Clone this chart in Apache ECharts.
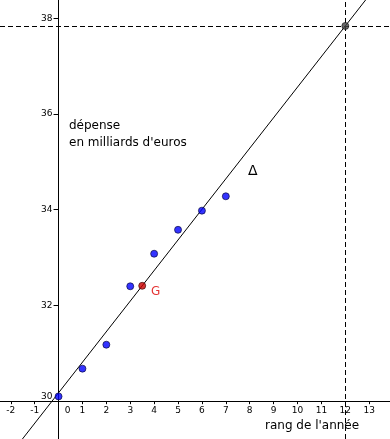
<!DOCTYPE html>
<html><head><meta charset="utf-8">
<script src="https://cdn.jsdelivr.net/npm/echarts@6/dist/echarts.min.js"></script>
<style>html,body{margin:0;padding:0;background:#fff}#c{width:390px;height:439px}</style>
</head><body><div id="c"></div>
<script>
const ranks = [0, 1, 2, 3, 4, 5, 6, 7];
const spend = [30.1, 30.68, 31.18, 32.40, 33.08, 33.58, 33.98, 34.28];
const xTicks = [-2, -1, 0, 1, 2, 3, 4, 5, 6, 7, 8, 9, 10, 11, 12, 13];
const yTicks = [30, 32, 34, 36, 38];
const forecastRank = 12;
const xRange = [-2.45, 13.87];
const yRange = [29.21, 38.38];
const xTitle = "rang de l'année";
const yTitle = ["dépense", "en milliards d'euros"];

const n = ranks.length;
const mx = ranks.reduce((a, b) => a + b, 0) / n;
const my = spend.reduce((a, b) => a + b, 0) / n;
let sxy = 0, sxx = 0;
for (let i = 0; i < n; i++) { sxy += (ranks[i] - mx) * (spend[i] - my); sxx += (ranks[i] - mx) ** 2; }
const a = sxy / sxx, b = my - a * mx;
const f = x => a * x + b;
const forecast = f(forecastRank);

const W = 390, H = 439;
const xAxisOffset = -((yTicks[0] - yRange[0]) / (yRange[1] - yRange[0])) * H;
const yAxisOffset = -((0 - xRange[0]) / (xRange[1] - xRange[0])) * W;
const FONT = 'DejaVu Sans';

const chart = echarts.init(document.getElementById('c'), null, {renderer: 'canvas'});
chart.setOption({
  animation: false,
  grid: {left: 0, right: 0, top: 0, bottom: 0, containLabel: false, outerBoundsMode: 'none'},
  xAxis: {
    type: 'value', min: xRange[0], max: xRange[1], position: 'bottom', offset: xAxisOffset,
    splitLine: {show: false},
    axisLine: {onZero: false, lineStyle: {color: '#000', width: 1}},
    axisTick: {customValues: xTicks, length: 3, lineStyle: {color: '#000'}},
    axisLabel: {
      customValues: xTicks, margin: 5, color: '#000', fontFamily: FONT, fontSize: 9,
      formatter: v => v === 0 ? '{z|0}' : String(v),
      rich: {z: {padding: [0, 0, 0, 18], fontFamily: FONT, fontSize: 9, color: '#000'}}
    }
  },
  yAxis: {
    type: 'value', min: yRange[0], max: yRange[1], position: 'left', offset: yAxisOffset,
    splitLine: {show: false},
    axisLine: {onZero: false, lineStyle: {color: '#000', width: 1}},
    axisTick: {customValues: yTicks, length: 5, lineStyle: {color: '#000'}},
    axisLabel: {
      customValues: yTicks, margin: 6, color: '#000', fontFamily: FONT, fontSize: 9,
      formatter: v => v === yTicks[0] ? '{z|' + v + '}' : String(v),
      rich: {z: {padding: [0, 0, 10, 0], fontFamily: FONT, fontSize: 9, color: '#000'}}
    }
  },
  series: [
    {
      type: 'line', data: [[xRange[0], f(xRange[0])], [xRange[1], f(xRange[1])]],
      showSymbol: false, lineStyle: {color: '#000', width: 1}, silent: true, z: 2,
      markLine: {
        silent: true, symbol: 'none', label: {show: false},
        lineStyle: {color: '#000', width: 1, type: [5, 3]},
        data: [{xAxis: forecastRank}, {yAxis: forecast}]
      }
    },
    {
      type: 'scatter', data: ranks.map((r, i) => [r, spend[i]]), symbolSize: 7, z: 5,
      itemStyle: {color: '#0000ff', borderColor: '#000033', borderWidth: 0.8}
    },
    {
      type: 'scatter', data: [[mx, my]], symbolSize: 7, z: 5,
      itemStyle: {color: '#cc0000', borderColor: '#330000', borderWidth: 0.8},
      label: {show: true, formatter: 'G', position: 'right', distance: 5, offset: [0, 6],
        color: '#dd0000', fontFamily: FONT, fontSize: 12}
    },
    {
      type: 'scatter', data: [[forecastRank, forecast]], symbolSize: 7, z: 5,
      itemStyle: {color: '#444444', borderColor: '#111', borderWidth: 0.8}
    }
  ],
  graphic: [
    {type: 'text', left: 69, top: 117, style: {text: yTitle.join('\n'), fontFamily: FONT, fontSize: 12, fill: '#000', lineHeight: 17}},
    {type: 'text', left: 265, top: 420, style: {text: xTitle, fontFamily: FONT, fontSize: 12, fill: '#000'}},
    {type: 'text', left: 248, top: 164, style: {text: 'Δ', fontFamily: FONT, fontSize: 14, fill: '#000'}}
  ]
});
</script></body></html>
